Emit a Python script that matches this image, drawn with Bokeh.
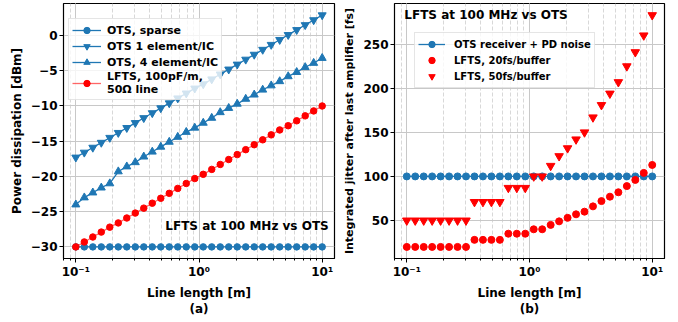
from bokeh.plotting import figure
from bokeh.layouts import row
from bokeh.models import Range1d, FixedTicker, LogTicker, CustomJSTickFormatter, Label, Legend
from bokeh.embed import file_html
from bokeh.resources import INLINE

# ---- data ----
length_m = [0.1, 0.1172, 0.1374, 0.1610, 0.1887, 0.2212, 0.2593, 0.3039, 0.3562, 0.4175,
            0.4894, 0.5736, 0.6723, 0.7880, 0.9237, 1.0826, 1.2690, 1.4874, 1.7433, 2.0434,
            2.3950, 2.8072, 3.2903, 3.8566, 4.5204, 5.2983, 6.2102, 7.2790, 8.5317, 10.0]

ots_sparse = [-30.0, -30.0, -30.0, -30.0, -30.0, -30.0, -30.0, -30.0, -30.0, -30.0,
              -30.0, -30.0, -30.0, -30.0, -30.0, -30.0, -30.0, -30.0, -30.0, -30.0,
              -30.0, -30.0, -30.0, -30.0, -30.0, -30.0, -30.0, -30.0, -30.0, -30.0]
ots_1elem = [-17.3, -16.6, -15.9, -15.2, -14.5, -13.8, -13.1, -12.4, -11.7, -11.0,
             -10.3, -9.6, -8.9, -8.2, -7.5, -6.9, -6.2, -5.5, -4.8, -4.1,
             -3.4, -2.7, -2.0, -1.3, -0.6, 0.1, 0.8, 1.5, 2.2, 2.9]
ots_4elem = [-24.0, -23.0, -22.3, -21.6, -21.0, -19.3, -18.6, -18.0, -17.2, -16.5,
             -15.8, -15.1, -14.4, -13.7, -13.1, -12.4, -11.7, -10.9, -10.3, -9.7,
             -9.0, -8.4, -7.7, -7.1, -6.5, -5.8, -5.2, -4.5, -3.9, -3.2]
lfts_power = [-30.0, -29.3, -28.6, -27.9, -27.2, -26.6, -25.9, -25.2, -24.5, -23.8,
              -23.1, -22.4, -21.7, -21.0, -20.3, -19.7, -19.0, -18.3, -17.6, -16.9,
              -16.2, -15.5, -14.8, -14.1, -13.4, -12.8, -12.1, -11.4, -10.7, -10.0]

ots_jitter = [100, 100, 100, 100, 100, 100, 100, 100, 100, 100,
              100, 100, 100, 100, 100, 100, 100, 100, 100, 100,
              100, 100, 100, 100, 100, 100, 100, 100, 100, 100]
lfts_20fs = [20, 20, 20, 20, 20, 20, 20, 20, 28, 28,
             28, 28, 35, 35, 35, 40, 40, 45, 49, 53,
             57, 60, 66, 72, 77, 82, 89, 96, 104, 113]
lfts_50fs = [50, 50, 50, 50, 50, 50, 50, 50, 71, 71,
             71, 71, 87, 87, 87, 100, 100, 112, 123, 132,
             142, 150, 167, 181, 194, 207, 225, 241, 260, 283]

power_ticks = [-30, -25, -20, -15, -10, -5, 0]
jitter_ticks = [50, 100, 150, 200, 250]

BLUE = "#1f77b4"
RED = "#ff0000"
FONT = "DejaVu Sans"

sup_js = """
const e = Math.round(Math.log10(tick));
const m = {"-":"\u207b","0":"\u2070","1":"\u00b9","2":"\u00b2","3":"\u00b3","4":"\u2074","5":"\u2075","6":"\u2076","7":"\u2077","8":"\u2078","9":"\u2079"};
return "10" + String(e).split("").map(c => m[c]).join("");
"""


def style(p, xlabel, ylabel, yticks, ylabel_size):
    p.x_range = Range1d(10 ** -1.1, 10 ** 1.1)
    p.xaxis.ticker = LogTicker(num_minor_ticks=10)
    p.xaxis.formatter = CustomJSTickFormatter(code=sup_js)
    p.yaxis.ticker = FixedTicker(ticks=yticks)
    p.xaxis.axis_label = xlabel
    p.yaxis.axis_label = ylabel
    for ax in (p.xaxis[0], p.yaxis[0]):
        ax.axis_label_text_font = FONT
        ax.axis_label_text_font_style = "bold"
        ax.axis_label_text_font_size = "12px"
        ax.axis_label_text_color = "black"
        ax.axis_label_standoff = 4
        ax.major_label_text_font = FONT
        ax.major_label_text_font_style = "bold"
        ax.major_label_text_font_size = "12px"
        ax.major_label_text_color = "black"
        ax.major_tick_out = 4
        ax.major_tick_in = 0
        ax.minor_tick_in = 0
        ax.axis_line_color = "black"
        ax.major_tick_line_color = "black"
        ax.minor_tick_line_color = "black"
        ax.major_label_standoff = 2
    p.yaxis.axis_label_text_font_size = ylabel_size
    p.xaxis.minor_tick_out = 2
    p.yaxis.minor_tick_out = 0
    p.outline_line_color = "black"
    p.outline_line_width = 1.2
    p.xgrid.grid_line_color = "#c8c8c8"
    p.ygrid.grid_line_color = "#c8c8c8"
    p.xgrid.minor_grid_line_color = "#d8d8d8"
    p.xgrid.minor_grid_line_dash = "4 2"
    p.background_fill_color = "white"
    p.border_fill_color = "white"


# ---- left panel ----
p1 = figure(width=340, height=322, x_axis_type="log", output_backend="svg",
            toolbar_location=None, min_border_left=63, min_border_right=6,
            min_border_top=3, min_border_bottom=64)
p1.y_range = Range1d(-31.65, 4.55)
style(p1, "Line length [m]\n(a)", "Power dissipation [dBm]", power_ticks, "12px")

l1 = p1.line(length_m, ots_sparse, color=BLUE, line_width=1.3)
s1 = p1.scatter(length_m, ots_sparse, marker="circle", size=6.5, color=BLUE)
l2 = p1.line(length_m, ots_1elem, color=BLUE, line_width=1.3)
s2 = p1.scatter(length_m, ots_1elem, marker="inverted_triangle", size=8, color=BLUE)
l3 = p1.line(length_m, ots_4elem, color=BLUE, line_width=1.3)
s3 = p1.scatter(length_m, ots_4elem, marker="triangle", size=8, color=BLUE)
l4 = p1.line(length_m, lfts_power, color=RED, line_width=1.3, line_alpha=0.6)
s4 = p1.scatter(length_m, lfts_power, marker="circle", size=6.5, color=RED)

leg1 = Legend(items=[("OTS, sparse", [l1, s1]),
                     ("OTS 1 element/IC", [l2, s2]),
                     ("OTS, 4 element/IC", [l3, s3]),
                     ("LFTS, 100pF/m,\n50\u03a9 line", [l4, s4])],
              location=(5, 158))
p1.add_layout(leg1, "center")

p1.add_layout(Label(x=11.3, y=-27.1, text="LFTS at 100 MHz vs OTS", text_align="right",
                    text_baseline="middle", text_font=FONT, text_font_style="bold",
                    text_font_size="12px", text_color="black"))

# ---- right panel ----
p2 = figure(width=338, height=322, x_axis_type="log", output_backend="svg",
            toolbar_location=None, min_border_left=52, min_border_right=14,
            min_border_top=3, min_border_bottom=64)
p2.y_range = Range1d(6.85, 296.2)
style(p2, "Line length [m]\n(b)", "Integrated jitter after last amplifier [fs]", jitter_ticks, "11px")

m1 = p2.line(length_m, ots_jitter, color=BLUE, line_width=1.3)
n1 = p2.scatter(length_m, ots_jitter, marker="circle", size=7, color=BLUE)
n2 = p2.scatter(length_m, lfts_20fs, marker="circle", size=7, color=RED)
n3 = p2.scatter(length_m, lfts_50fs, marker="inverted_triangle", size=8.5, color=RED)

leg2 = Legend(items=[("OTS receiver + PD noise", [m1, n1]),
                     ("LFTS, 20fs/buffer", [n2]),
                     ("LFTS, 50fs/buffer", [n3])],
              location=(20, 170))
p2.add_layout(leg2, "center")

p2.add_layout(Label(x=0.0955, y=283.4, text="LFTS at 100 MHz vs OTS", text_align="left",
                    text_baseline="middle", text_font=FONT, text_font_style="bold",
                    text_font_size="12px", text_color="black"))

for leg in (leg1, leg2):
    leg.label_text_font = FONT
    leg.label_text_font_style = "bold"
    leg.label_text_color = "black"
    leg.label_text_line_height = 1.0
    leg.border_line_color = "#cccccc"
    leg.border_line_width = 1
    leg.background_fill_alpha = 0.8
    leg.glyph_height = 16
    leg.label_height = 16
    leg.spacing = 0
    leg.padding = 3
    leg.margin = 0
leg1.label_text_font_size = "11px"
leg1.glyph_width = 29
leg1.label_standoff = 6
leg2.label_text_font_size = "10px"
leg2.glyph_width = 27
leg2.label_standoff = 9

layout = row(p1, p2)
open("out.html", "w").write(file_html(layout, INLINE))
